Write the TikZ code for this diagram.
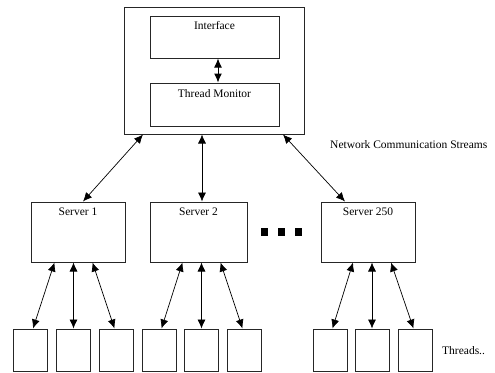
\documentclass[tikz,border=0pt]{standalone}
\usepackage{fontspec}
\setmainfont{Liberation Serif}
\usetikzlibrary{arrows.meta,calc}
\begin{document}
\begin{tikzpicture}[x=1pt,y=-1pt,
  box/.style={draw=black!85,line width=1pt,fill=white,inner sep=0pt},
  lbl/.style={font=\fontsize{11.5}{13}\selectfont,inner sep=0pt,anchor=north},
  txt/.style={font=\fontsize{11.5}{13}\selectfont,inner sep=0pt,anchor=west},
  thread/.style={box,minimum width=34pt,minimum height=42pt},
  server/.style={box,minimum height=60pt},
  link/.style={line width=0.7pt,{Latex[length=9pt,width=8pt]}-{Latex[length=9pt,width=8pt]}}
]
\useasboundingbox (0,0) rectangle (495,372);
% top group
\node[box,minimum width=180pt,minimum height=127pt] (outer) at (214,70.5) {};
\node[box,minimum width=129pt,minimum height=42pt] (intf) at (214.5,37) {};
\node[lbl] at ($(intf.north)+(0,6)$) {Interface};
\node[box,minimum width=129pt,minimum height=43pt] (tm) at (214.5,104.5) {};
\node[lbl] at ($(tm.north)+(0,7)$) {Thread Monitor};
\draw[link,line width=1pt] ($(intf.south)+(3.5,0)$) -- ($(tm.north)+(3.5,0)$);
% servers
\node[server,minimum width=94pt] (s1) at (78,232) {};
\node[lbl] at ($(s1.north)+(0,6)$) {Server 1};
\node[server,minimum width=97pt] (s2) at (198.5,232) {};
\node[lbl] at ($(s2.north)+(0,6)$) {Server 2};
\node[server,minimum width=94pt] (s3) at (368,232) {};
\node[lbl] at ($(s3.north)+(0,6)$) {Server 250};
% ellipsis
\fill (261,228) rectangle (268,236);
\fill (278,228) rectangle (285,236);
\fill (295,228) rectangle (302,236);
% network links
\draw[link] ($(outer.south)+(-71,0)$) -- ($(s1.north)+(5,0)$);
\draw[link] ($(outer.south)+(-12,0)$) -- ($(s2.north)+(3.5,0)$);
\draw[link] ($(outer.south)+(69,0)$) -- ($(s3.north)+(-23,0)$);
\node[txt] (net) at (330,145) {Network Communication Streams};
% threads
\foreach \n/\x in {a1/30.5,a2/73.5,a3/116,b1/159,b2/201.5,b3/244,c1/330,c2/372,c3/415}
  \node[thread] (\n) at (\x,350) {};
\foreach \s/\l/\m/\r in {s1/a1/a2/a3,s2/b1/b2/b3,s3/c1/c2/c3}{
  \draw[link] (\m.north |- \s.south) -- (\m.north);
  \draw[link] ($(\m.north |- \s.south)+(-19,0)$) -- ($(\l.north)+(2.5,0)$);
  \draw[link] ($(\m.north |- \s.south)+(19,0)$) -- ($(\r.north)+(-1.5,0)$);
}
\node[txt] (thr) at (442,351) {Threads..};
\end{tikzpicture}
\end{document}
